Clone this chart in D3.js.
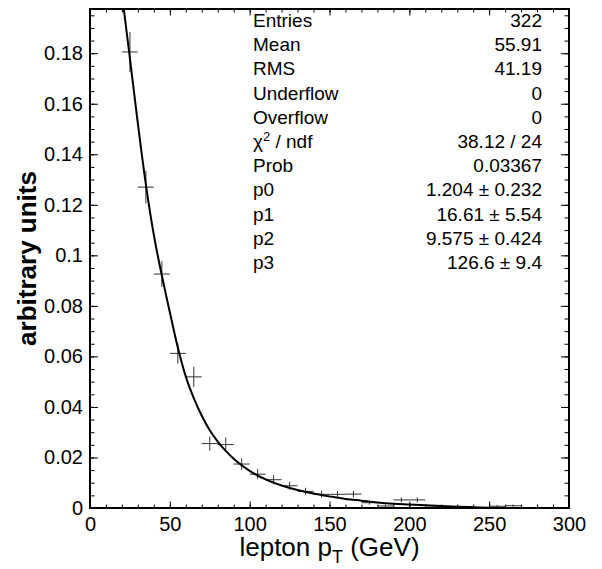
<!DOCTYPE html>
<html lang="en">
<head>
<meta charset="utf-8">
<title>lepton pT fit</title>
<script src="https://cdn.jsdelivr.net/npm/d3@7"></script>
<style>
  body { margin: 0; background: #fff; }
  svg { display: block; }
  text { font-family: "Liberation Sans", Arial, Helvetica, sans-serif; fill: #000; }
</style>
</head>
<body>
<script>
var w = 602, h = 569;

// histogram bins (centre, content, error)
var binCentres = [25, 35, 45, 55, 65, 75, 85, 95, 105, 115, 125, 135, 145, 155, 165,
                  175, 185, 195, 205, 215, 225, 235, 245, 255, 265, 275, 285, 295];
var binValues  = [0.1805, 0.127, 0.0926, 0.0612, 0.0519, 0.0255, 0.0251, 0.0174, 0.0134, 0.0112,
                  0.0088, 0.0066, 0.0054, 0.0054, 0.0055, 0.0021, 0.0008, 0.0032, 0.0032, 0.0003,
                  0.0005, 0.0005, 0, 0.0007, 0.0009, 0, 0, 0];
var binErrors  = [0.0079, 0.0065, 0.0051, 0.0040, 0.0040, 0.0028, 0.0028, 0.0023, 0.0020, 0.0018,
                  0.0016, 0.0014, 0.0013, 0.0013, 0.0013, 0.0008, 0.0005, 0.0010, 0.0010, 0.0003,
                  0.0004, 0.0004, 0, 0.0005, 0.0005, 0, 0, 0];
var binHalfWidth = 5;

// fitted curve
var fitX = [18, 20, 25, 30, 35, 40, 45, 50, 55, 60, 65, 70, 75, 80, 85, 90, 95, 100, 110, 120,
            130, 140, 150, 160, 170, 180, 190, 200, 210, 220, 230, 240, 250, 260, 275];
var fitY = [0.216, 0.204, 0.178, 0.152, 0.128, 0.108, 0.092, 0.0775, 0.0635, 0.052, 0.0435, 0.0365,
            0.0308, 0.0263, 0.0226, 0.0195, 0.0169, 0.0147, 0.0113, 0.0089, 0.0071, 0.0057, 0.0046,
            0.0036, 0.0029, 0.0022, 0.0017, 0.0014, 0.0011, 0.0008, 0.0005, 0.0003, 0.0001, 0, 0];

// axes
var xTicks = [0, 50, 100, 150, 200, 250, 300];
var xTickLabels = ["0", "50", "100", "150", "200", "250", "300"];
var xMinor = d3.range(0, 301, 10);
var yTicks = [0, 0.02, 0.04, 0.06, 0.08, 0.1, 0.12, 0.14, 0.16, 0.18];
var yTickLabels = ["0", "0.02", "0.04", "0.06", "0.08", "0.1", "0.12", "0.14", "0.16", "0.18"];
var yMinor = d3.range(0, 0.1975, 0.005);

// stats box
var statNames  = ["Entries", "Mean", "RMS", "Underflow", "Overflow", "chi2", "Prob", "p0", "p1", "p2", "p3"];
var statValues = ["322", "55.91", "41.19", "0", "0", "38.12 / 24", "0.03367",
                  "1.204 \u00b1 0.232", "16.61 \u00b1 5.54", "9.575 \u00b1 0.424", "126.6 \u00b1 9.4"];

var fLeft = 90, fRight = 569, fTop = 9, fBottom = 508;

var xScale = d3.scaleLinear().domain([0, 300]).range([fLeft, fRight]);
var yScale = d3.scaleLinear().domain([0, 0.1975]).range([fBottom, fTop]);

var svg = d3.select("body").append("svg")
    .attr("width", w)
    .attr("height", h);

svg.append("defs").append("clipPath").attr("id", "frame")
  .append("rect")
    .attr("x", fLeft).attr("y", fTop)
    .attr("width", fRight - fLeft).attr("height", fBottom - fTop);

function noDomain(g) { g.select(".domain").remove(); }

// minor ticks
svg.append("g").attr("transform", "translate(0," + fBottom + ")")
  .call(d3.axisBottom(xScale).tickValues(xMinor).tickSize(-3.5).tickFormat(""))
  .call(noDomain);
svg.append("g").attr("transform", "translate(0," + fTop + ")")
  .call(d3.axisTop(xScale).tickValues(xMinor).tickSize(-3.5).tickFormat(""))
  .call(noDomain);
svg.append("g").attr("transform", "translate(" + fLeft + ",0)")
  .call(d3.axisLeft(yScale).tickValues(yMinor).tickSize(-4.5).tickFormat(""))
  .call(noDomain);
svg.append("g").attr("transform", "translate(" + fRight + ",0)")
  .call(d3.axisRight(yScale).tickValues(yMinor).tickSize(-4.5).tickFormat(""))
  .call(noDomain);

// major ticks + labels
svg.append("g").attr("transform", "translate(0," + fBottom + ")")
  .call(d3.axisBottom(xScale).tickValues(xTicks).tickSize(-6.5).tickPadding(9)
        .tickFormat(function(d, i) { return xTickLabels[i]; }))
  .call(noDomain)
  .attr("font-family", "Liberation Sans, Arial, sans-serif")
  .attr("font-size", 20);
svg.append("g").attr("transform", "translate(0," + fTop + ")")
  .call(d3.axisTop(xScale).tickValues(xTicks).tickSize(-6.5).tickFormat(""))
  .call(noDomain);
svg.append("g").attr("transform", "translate(" + fLeft + ",0)")
  .call(d3.axisLeft(yScale).tickValues(yTicks).tickSize(-8).tickPadding(7)
        .tickFormat(function(d, i) { return yTickLabels[i]; }))
  .call(noDomain)
  .attr("font-family", "Liberation Sans, Arial, sans-serif")
  .attr("font-size", 20);
svg.append("g").attr("transform", "translate(" + fRight + ",0)")
  .call(d3.axisRight(yScale).tickValues(yTicks).tickSize(-8).tickFormat(""))
  .call(noDomain);

svg.selectAll(".tick line").attr("stroke", "#000").attr("stroke-width", 1);

// data points with error bars
var pts = svg.append("g").attr("clip-path", "url(#frame)")
  .attr("stroke", "#333").attr("stroke-width", 1);

binCentres.forEach(function(c, i) {
  var v = binValues[i], e = binErrors[i];
  pts.append("line")
    .attr("x1", xScale(c - binHalfWidth)).attr("x2", xScale(c + binHalfWidth))
    .attr("y1", yScale(v)).attr("y2", yScale(v));
  if (e > 0) {
    pts.append("line")
      .attr("x1", xScale(c)).attr("x2", xScale(c))
      .attr("y1", yScale(v - e)).attr("y2", yScale(v + e));
  }
});

// fit curve
var line = d3.line()
  .x(function(d) { return xScale(d[0]); })
  .y(function(d) { return yScale(d[1]); })
  .curve(d3.curveMonotoneX);

svg.append("path")
  .datum(d3.zip(fitX, fitY))
  .attr("clip-path", "url(#frame)")
  .attr("fill", "none")
  .attr("stroke", "#000")
  .attr("stroke-width", 2)
  .attr("d", line);

// frame
svg.append("rect")
  .attr("x", fLeft).attr("y", fTop)
  .attr("width", fRight - fLeft).attr("height", fBottom - fTop)
  .attr("fill", "none").attr("stroke", "#000").attr("stroke-width", 2);

// stats box
var stats = svg.append("g").attr("font-size", 19);
statNames.forEach(function(name, i) {
  var yy = 27 + i * 24.2;
  var t = stats.append("text").attr("x", 253).attr("y", yy);
  if (name === "chi2") {
    t.append("tspan").text("\u03c7");
    t.append("tspan").attr("dy", -7).attr("font-size", 13).text("2");
    t.append("tspan").attr("dy", 7).text(" / ndf");
  } else {
    t.text(name);
  }
  stats.append("text").attr("x", 542).attr("y", yy)
    .attr("text-anchor", "end").text(statValues[i]);
});

// axis titles
var xt = svg.append("text")
  .attr("x", (fLeft + fRight) / 2).attr("y", 556)
  .attr("text-anchor", "middle").attr("font-size", 26);
xt.append("tspan").text("lepton p");
xt.append("tspan").attr("dy", 7).attr("font-size", 18).text("T");
xt.append("tspan").attr("dy", -7).text(" (GeV)");

svg.append("text")
  .attr("transform", "translate(36," + (fTop + fBottom) / 2 + ") rotate(-90)")
  .attr("text-anchor", "middle")
  .attr("font-size", 26)
  .attr("font-weight", "bold")
  .text("arbitrary units");
</script>
</body>
</html>
